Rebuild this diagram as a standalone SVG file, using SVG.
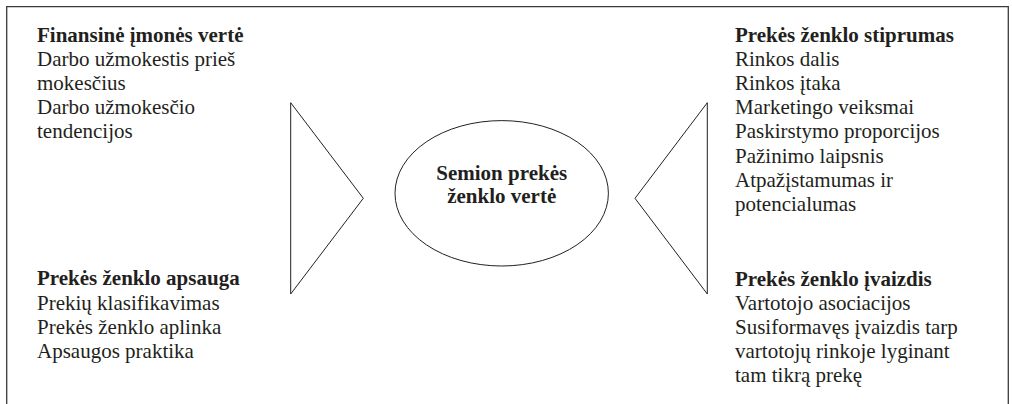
<svg xmlns="http://www.w3.org/2000/svg" width="1012" height="404" viewBox="0 0 1012 404">
<style>
text{font-family:"Liberation Serif","Times New Roman",serif;font-size:21px;fill:#231f20}
.b{font-weight:bold}
.shape{fill:none;stroke:#231f20;stroke-width:1}
.frame{fill:none;stroke:#3a3a3a;stroke-width:1.3}
</style>
<rect width="1012" height="404" fill="#ffffff"/>
<path class="frame" d="M6.7,404 V6.7 H1008.3 V404"/>
<g id="connectors">
<polygon id="tri-left" class="shape" points="290.7,102.7 363.3,198.3 290.7,294"/>
<polygon id="tri-right" class="shape" points="707.3,102.7 635,198.3 707.3,294"/>
</g>
<g id="center">
<ellipse class="shape" cx="501.7" cy="193.3" rx="106.7" ry="72.7"/>
<text class="b" x="501.7" y="179.5" text-anchor="middle">Semion prekės</text>
<text class="b" x="501.7" y="203" text-anchor="middle">ženklo vertė</text>
</g>
<g id="finansine">
<text class="b" x="37" y="41.5">Finansinė įmonės vertė</text>
<text x="37" y="65.7">Darbo užmokestis prieš</text>
<text x="37" y="89.9">mokesčius</text>
<text x="37" y="114.1">Darbo užmokesčio</text>
<text x="37" y="138.3">tendencijos</text>
</g>
<g id="apsauga">
<text class="b" x="37" y="285.3">Prekės ženklo apsauga</text>
<text x="37" y="309.5">Prekių klasifikavimas</text>
<text x="37" y="333.7">Prekės ženklo aplinka</text>
<text x="37" y="357.9">Apsaugos praktika</text>
</g>
<g id="stiprumas">
<text class="b" x="735" y="41.5">Prekės ženklo stiprumas</text>
<text x="735" y="65.7">Rinkos dalis</text>
<text x="735" y="89.9">Rinkos įtaka</text>
<text x="735" y="114.1">Marketingo veiksmai</text>
<text x="735" y="138.3">Paskirstymo proporcijos</text>
<text x="735" y="162.5">Pažinimo laipsnis</text>
<text x="735" y="186.7">Atpažįstamumas ir</text>
<text x="735" y="210.9">potencialumas</text>
</g>
<g id="ivaizdis">
<text class="b" x="735" y="285.5">Prekės ženklo įvaizdis</text>
<text x="735" y="309.7">Vartotojo asociacijos</text>
<text x="735" y="333.9">Susiformavęs įvaizdis tarp</text>
<text x="735" y="358.1">vartotojų rinkoje lyginant</text>
<text x="735" y="382.3">tam tikrą prekę</text>
</g>
</svg>
